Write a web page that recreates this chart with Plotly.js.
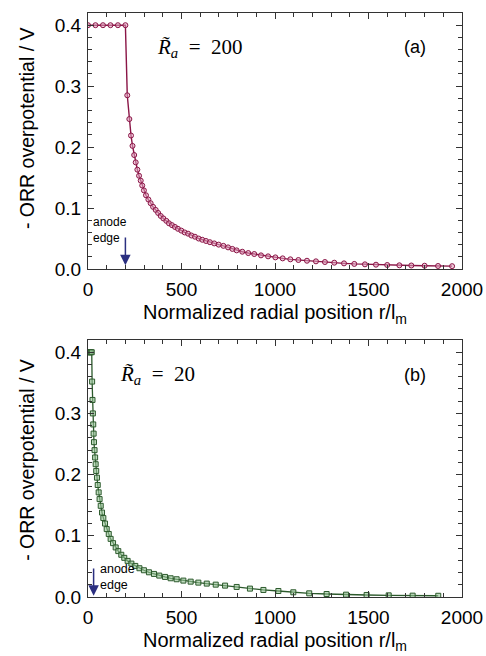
<!DOCTYPE html>
<html>
<head>
<meta charset="utf-8">
<script src="https://cdn.plot.ly/plotly-3.0.1.min.js"></script>
<style>html,body{margin:0;padding:0;background:#fff;}#chart{width:486px;height:656px;}</style>
</head>
<body>
<div id="chart"></div>
<script>
// Panel (a): R_a = 200
const xA = [0,40,80,120,160,200,210,221,230,238,247,255,264,273,282,290,299,310,323,335,348,362,375,389,403,419,433,449,465,481,499,517,535,553,572,592,611,631,652,675,699,724,749,772,795,825,857,889,925,963,1002,1041,1082,1125,1171,1219,1267,1317,1369,1424,1481,1540,1600,1665,1729,1800,1872,1947];
const yA = [0.4,0.4,0.4,0.4,0.4,0.4,0.285,0.246,0.219,0.202,0.187,0.175,0.163,0.153,0.145,0.137,0.129,0.121,0.114,0.108,0.102,0.097,0.092,0.087,0.083,0.079,0.075,0.072,0.069,0.066,0.063,0.060,0.058,0.055,0.053,0.050,0.048,0.046,0.044,0.042,0.040,0.038,0.0355,0.033,0.0306,0.0284,0.0262,0.0246,0.0224,0.0208,0.0191,0.0175,0.0159,0.0148,0.0136,0.0126,0.0115,0.0104,0.0093,0.0084,0.0077,0.0071,0.0066,0.0061,0.0058,0.0054,0.0050,0.0047];
// Panel (b): R_a = 20
const xB = [0,5,10,15,20,22,24,26,28,30,32,35,38,41,44,48,52,57,62,68,75,82,91,100,111,121,134,148,162,178,194,212,232,253,275,299,326,353,381,412,442,474,510,549,590,635,683,733,795,866,938,1018,1098,1183,1276,1380,1490,1608,1736,1873];
const yB = [0.4,0.4,0.4,0.4,0.4,0.352,0.322,0.300,0.282,0.267,0.253,0.240,0.228,0.217,0.206,0.195,0.183,0.171,0.160,0.149,0.138,0.129,0.120,0.111,0.103,0.095,0.088,0.081,0.075,0.069,0.064,0.059,0.0546,0.0508,0.047,0.0437,0.0404,0.0377,0.035,0.0328,0.0306,0.029,0.0268,0.0251,0.0235,0.0219,0.0202,0.0186,0.0164,0.0137,0.0115,0.0098,0.0077,0.006,0.0049,0.0038,0.0033,0.0027,0.0022,0.0020];
const xTickVals = [0,500,1000,1500,2000];
const yTickVals = [0.0,0.1,0.2,0.3,0.4];
const xTitle = 'Normalized radial position r/l<sub>m</sub>';
const yTitle = '- ORR overpotential / V';
const edgeA = 200, edgeB = 30;

const traces = [
  {x:xA, y:yA, xaxis:'x', yaxis:'y', mode:'lines+markers', type:'scatter',
   line:{color:'#8a1546', width:1.4},
   marker:{symbol:'circle', size:5, color:'rgba(225,160,190,0.55)', line:{color:'#8a1546', width:1}}},
  {x:xB, y:yB, xaxis:'x2', yaxis:'y2', mode:'lines+markers', type:'scatter',
   line:{color:'#2c5a2c', width:1.3},
   marker:{symbol:'square', size:5, color:'rgba(150,195,150,0.6)', line:{color:'#2c5a2c', width:1}}}
];

const sans = 'Liberation Sans, Arial, sans-serif';
const axFont = {family:sans, size:19, color:'#000'};
function xax(anchor){
  return {anchor:anchor, range:[0,2000], tickvals:xTickVals, ticks:'inside', ticklen:6, tickwidth:1, tickcolor:'#333',
    showline:true, linecolor:'#333', linewidth:1, mirror:'ticks', showgrid:false, zeroline:false,
    minor:{dtick:100, tick0:0, ticks:'inside', ticklen:4, tickcolor:'#333', showgrid:false},
    ticklabelstandoff:3,
    tickfont:axFont, title:{text:xTitle, font:{family:sans, size:20, color:'#000'}, standoff:6}};
}
function yax(anchor, dom){
  return {anchor:anchor, domain:dom, range:[0,0.42], tickvals:yTickVals, tickformat:'.1f', ticks:'inside', ticklen:6, tickwidth:1, tickcolor:'#333',
    showline:true, linecolor:'#333', linewidth:1, mirror:'ticks', showgrid:false, zeroline:false,
    minor:{dtick:0.02, tick0:0, ticks:'inside', ticklen:4, tickcolor:'#333', showgrid:false},
    ticklabelstandoff:2, tickfont:axFont};
}

const serif = {family:'Liberation Serif, DejaVu Serif, serif', size:21, color:'#000'};
const small = {family:sans, size:12, color:'#000'};
const yTitleFont = {family:sans, size:19.5, color:'#000'};
const arrowColor = '#2b2f80';

const layout = {
  width:486, height:656, margin:{l:88, r:24, t:13, b:59},
  paper_bgcolor:'#fff', plot_bgcolor:'#fff', showlegend:false,
  xaxis: xax('y'), yaxis: yax('x',[0.5616,1]),
  xaxis2: xax('y2'), yaxis2: yax('x2',[0,0.4401]),
  annotations:[
    {xref:'paper', yref:'paper', x:-0.163, y:0.803, text:yTitle, textangle:-90, showarrow:false, font:yTitleFont, xanchor:'center', yanchor:'middle'},
    {xref:'paper', yref:'paper', x:-0.163, y:0.235, text:yTitle, textangle:-90, showarrow:false, font:yTitleFont, xanchor:'center', yanchor:'middle'},
    {xref:'x', yref:'y', x:600, y:0.362, text:'<i>R̃</i><sub><i>a</i></sub>  =  200', showarrow:false, font:serif, xanchor:'center'},
    {xref:'x', yref:'y', x:1750, y:0.365, text:'(a)', showarrow:false, font:{family:sans, size:18, color:'#000'}},
    {xref:'x2', yref:'y2', x:370, y:0.362, text:'<i>R̃</i><sub><i>a</i></sub>  =  20', showarrow:false, font:serif, xanchor:'center'},
    {xref:'x2', yref:'y2', x:1750, y:0.363, text:'(b)', showarrow:false, font:{family:sans, size:18, color:'#000'}},
    {xref:'x', yref:'y', x:edgeA, y:0.006, axref:'x', ayref:'y', ax:edgeA, ay:0.054, text:'', showarrow:true, arrowhead:2, arrowsize:1.4, arrowwidth:1.5, arrowcolor:arrowColor, standoff:0},
    {xref:'x', yref:'y', x:15, y:0.064, text:'anode<br>edge', showarrow:false, font:small, xanchor:'left', align:'left'},
    {xref:'x2', yref:'y2', x:edgeB, y:0.002, axref:'x2', ayref:'y2', ax:edgeB, ay:0.049, text:'', showarrow:true, arrowhead:2, arrowsize:1.4, arrowwidth:1.5, arrowcolor:arrowColor, standoff:0},
    {xref:'x2', yref:'y2', x:52, y:0.032, text:'anode<br>edge', showarrow:false, font:{family:sans, size:12.5, color:'#000'}, xanchor:'left', align:'left'}
  ]
};
Plotly.newPlot('chart', traces, layout, {displayModeBar:false, staticPlot:true});
</script>
</body>
</html>
